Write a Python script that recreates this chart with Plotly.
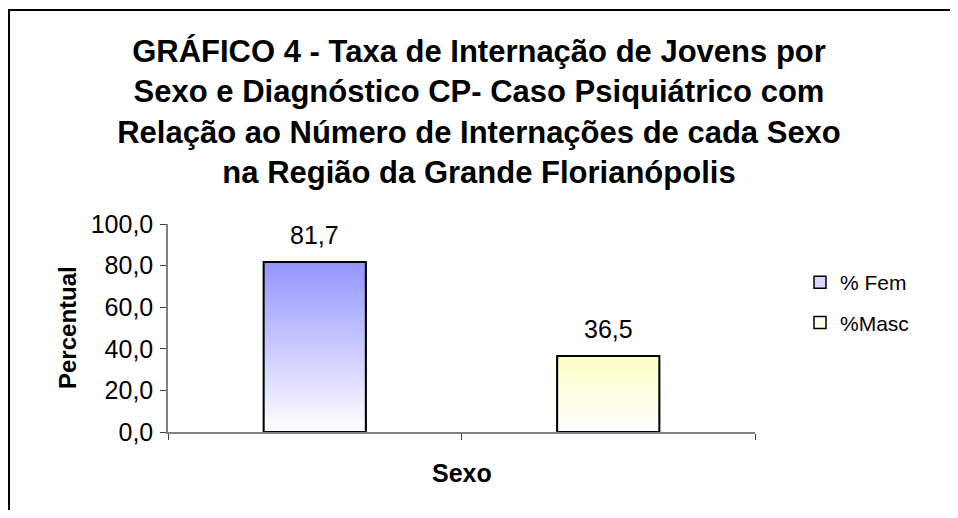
import plotly.graph_objects as go

series_names = ["% Fem", "%Masc"]
values = [81.7, 36.5]
top_colors = ["#9494FF", "#FFFFC8"]
legend_colors = ["#D8D8FF", "#FFFFE6"]
y_ticks = [0, 20, 40, 60, 80, 100]
title_lines = [
    "GRÁFICO 4 - Taxa de Internação de Jovens por",
    "Sexo e Diagnóstico CP- Caso Psiquiátrico com",
    "Relação ao Número de Internações de cada Sexo",
    "na Região da Grande Florianópolis",
]
x_title = "Sexo"
y_title = "Percentual"

FONT = "Liberation Sans, Arial, sans-serif"
# page has an 8px body margin, so the figure is drawn 8px in from the corner
W, H = 942, 502
L, R, T, B = 160, 195, 216, 78
half_w = 0.174  # half bar width in category units
pw = W - L - R
ph = H - T - B

fig = go.Figure()
for i, (name, v) in enumerate(zip(series_names, values)):
    c = i + 0.5
    fig.add_trace(go.Bar(
        x=[c], y=[v], name=name, width=2 * half_w,
        marker=dict(color=legend_colors[i], line=dict(color="black", width=1.5)),
        legendgroup=name, hoverinfo="skip",
    ))
    fig.add_trace(go.Scatter(
        x=[c - half_w, c - half_w, c + half_w, c + half_w, c - half_w],
        y=[0, v, v, 0, 0],
        mode="lines", fill="toself",
        fillgradient=dict(type="vertical", colorscale=[[0, "#FFFFFF"], [1, top_colors[i]]]),
        line=dict(color="black", width=2),
        showlegend=False, legendgroup=name, hoverinfo="skip",
    ))
    fig.add_annotation(
        x=c, y=v, text=f"{v:.1f}".replace(".", ","), showarrow=False,
        yshift=27, font=dict(family=FONT, size=25, color="black"),
    )

# axis titles
fig.add_annotation(
    x=0.5, y=0, xref="paper", yref="paper", text=f"<b>{x_title}</b>",
    showarrow=False, xanchor="center", yanchor="middle", yshift=-41,
    font=dict(family=FONT, size=25, color="black"),
)
fig.add_annotation(
    x=0, y=0.5, xref="paper", yref="paper", text=f"<b>{y_title}</b>",
    showarrow=False, xanchor="center", yanchor="middle", xshift=-101,
    textangle=-90, font=dict(family=FONT, size=24, color="black"),
)

# outer chart border (top and left visible)
fig.add_shape(
    type="rect", xref="paper", yref="paper",
    x0=(1 - L) / pw, x1=(W + 20 - L) / pw,
    y0=-(B + 20) / ph, y1=(T - 2) / ph + 1,
    line=dict(color="black", width=2), fillcolor="rgba(0,0,0,0)", layer="below",
)

fig.update_layout(
    width=W, height=H,
    margin=dict(l=L, r=R, t=T, b=B, pad=0),
    paper_bgcolor="white", plot_bgcolor="white",
    separators=",.",
    barmode="overlay",
    font=dict(family=FONT, size=18, color="black"),
    title=dict(
        text="<br>".join(title_lines), x=0.5, xref="container", xanchor="center",
        y=1 - 54 / H, yanchor="top",
        font=dict(family=FONT, size=31, color="black", weight="bold"),
    ),
    xaxis=dict(
        range=[0, 2], tickvals=[0, 1, 2], showticklabels=False,
        ticks="outside", ticklen=6, tickcolor="#404040",
        showline=True, linecolor="#808080", linewidth=1.5,
        showgrid=False, zeroline=False,
    ),
    yaxis=dict(
        range=[0, 100], tickvals=y_ticks, tickformat=".1f",
        ticks="outside", ticklen=6, tickcolor="#404040",
        showline=True, linecolor="#808080", linewidth=1.5,
        showgrid=False, zeroline=False,
        tickfont=dict(size=25), ticklabelstandoff=2,
    ),
    legend=dict(
        x=(792 - L) / pw, y=(424 - 254) / ph, xanchor="left", yanchor="top",
        font=dict(size=21), tracegroupgap=10, traceorder="grouped",
        bgcolor="rgba(0,0,0,0)",
    ),
    showlegend=True,
)

fig.write_html("out.html")
